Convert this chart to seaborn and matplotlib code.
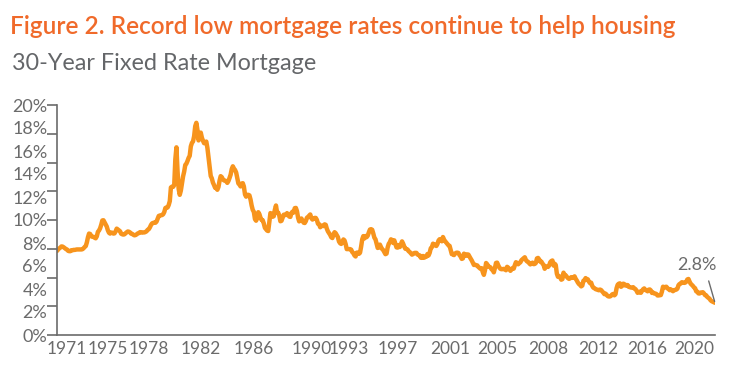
import seaborn as sns
import matplotlib.pyplot as plt
import numpy as np
import pandas as pd

# Tasa hipotecaria fija a 30 años, promedio mensual (%), abril 1971 - noviembre 2020
tasas = [
    7.31, 7.43, 7.53, 7.60, 7.70, 7.69, 7.63, 7.55, 7.48,                  # 1971
    7.44, 7.32, 7.29, 7.29, 7.37, 7.37, 7.40, 7.40, 7.42, 7.44, 7.44, 7.44,  # 1972
    7.44, 7.44, 7.46, 7.54, 7.65, 7.73, 8.05, 8.50, 8.82, 8.78, 8.58, 8.54,  # 1973
    8.54, 8.46, 8.41, 8.58, 8.97, 9.09, 9.28, 9.59, 9.96, 9.98, 9.79, 9.62,  # 1974
    9.43, 9.10, 8.89, 8.82, 8.91, 8.89, 8.82, 8.84, 9.01, 9.25, 9.18, 9.10,  # 1975
    9.02, 8.81, 8.76, 8.73, 8.76, 8.85, 8.93, 9.00, 8.98, 8.92, 8.81, 8.79,  # 1976
    8.72, 8.67, 8.69, 8.75, 8.83, 8.86, 8.94, 8.94, 8.90, 8.92, 8.92, 8.96,  # 1977
    9.02, 9.15, 9.20, 9.36, 9.57, 9.71, 9.74, 9.78, 9.76, 9.86, 10.11, 10.35,  # 1978
    10.39, 10.41, 10.43, 10.50, 10.69, 11.04, 11.09, 11.09, 11.30, 11.64, 12.83, 12.90,  # 1979
    12.88, 13.04, 15.28, 16.32, 14.26, 12.71, 12.19, 12.56, 13.20, 13.79, 14.21, 14.79,  # 1980
    14.90, 15.13, 15.40, 15.58, 16.40, 16.70, 16.83, 17.29, 18.16, 18.45, 17.83, 16.92,  # 1981
    17.40, 17.60, 17.16, 16.89, 16.68, 16.70, 16.82, 16.27, 15.43, 14.61, 13.83, 13.62,  # 1982
    13.25, 13.04, 12.80, 12.78, 12.63, 12.87, 13.42, 13.81, 13.73, 13.54, 13.44, 13.42,  # 1983
    13.37, 13.23, 13.39, 13.65, 13.94, 14.42, 14.67, 14.47, 14.35, 14.13, 13.64, 13.18,  # 1984
    13.08, 12.92, 13.17, 13.20, 12.91, 12.22, 12.03, 12.19, 12.19, 12.14, 11.78, 11.26,  # 1985
    10.88, 10.71, 10.08, 9.94, 10.14, 10.68, 10.51, 10.20, 10.01, 9.98, 9.70, 9.32,  # 1986
    9.20, 9.08, 9.04, 9.83, 10.60, 10.54, 10.28, 10.33, 10.89, 11.26, 10.65, 10.64,  # 1987
    10.38, 9.89, 9.93, 10.20, 10.46, 10.46, 10.43, 10.60, 10.48, 10.30, 10.27, 10.61,  # 1988
    10.73, 10.65, 11.03, 11.05, 10.77, 10.20, 9.88, 9.99, 10.13, 9.95, 9.77, 9.74,  # 1989
    9.90, 10.20, 10.27, 10.37, 10.48, 10.16, 10.04, 10.10, 10.18, 10.18, 10.01, 9.67,  # 1990
    9.64, 9.37, 9.50, 9.49, 9.47, 9.62, 9.58, 9.24, 9.01, 8.86, 8.71, 8.50,  # 1991
    8.43, 8.76, 8.94, 8.85, 8.67, 8.51, 8.13, 7.98, 7.92, 8.09, 8.31, 8.22,  # 1992
    7.91, 7.47, 7.47, 7.47, 7.47, 7.42, 7.21, 7.11, 6.92, 6.83, 7.16, 7.17,  # 1993
    7.06, 7.15, 7.68, 8.32, 8.60, 8.40, 8.61, 8.51, 8.64, 8.93, 9.17, 9.20,  # 1994
    9.15, 8.83, 8.46, 8.32, 7.96, 7.57, 7.61, 7.86, 7.64, 7.48, 7.38, 7.20,  # 1995
    7.03, 7.08, 7.62, 7.93, 8.07, 8.32, 8.25, 8.00, 8.23, 7.92, 7.62, 7.60,  # 1996
    7.82, 7.65, 7.90, 8.14, 7.94, 7.69, 7.50, 7.48, 7.43, 7.29, 7.21, 7.10,  # 1997
    6.99, 7.04, 7.13, 7.14, 7.14, 7.00, 6.95, 6.92, 6.72, 6.71, 6.87, 6.72,  # 1998
    6.79, 6.81, 7.04, 6.92, 7.15, 7.55, 7.63, 7.94, 7.82, 7.85, 7.74, 7.91,  # 1999
    8.21, 8.33, 8.24, 8.15, 8.52, 8.29, 8.15, 8.03, 7.91, 7.80, 7.75, 7.38,  # 2000
    7.03, 7.05, 6.95, 7.08, 7.15, 7.16, 7.13, 6.95, 6.82, 6.62, 6.66, 7.07,  # 2001
    7.00, 6.89, 7.01, 6.99, 6.81, 6.65, 6.49, 6.29, 6.09, 6.11, 6.07, 6.05,  # 2002
    5.92, 5.84, 5.75, 5.81, 5.48, 5.23, 5.63, 6.26, 6.15, 5.95, 5.93, 5.88,  # 2003
    5.71, 5.64, 5.45, 5.83, 6.27, 6.29, 6.06, 5.87, 5.75, 5.72, 5.73, 5.75,  # 2004
    5.71, 5.63, 5.93, 5.86, 5.72, 5.58, 5.70, 5.82, 5.77, 6.07, 6.33, 6.27,  # 2005
    6.15, 6.25, 6.32, 6.51, 6.60, 6.68, 6.76, 6.52, 6.40, 6.36, 6.24, 6.14,  # 2006
    6.22, 6.29, 6.16, 6.18, 6.26, 6.66, 6.70, 6.57, 6.38, 6.38, 6.21, 6.10,  # 2007
    5.76, 5.92, 5.97, 5.92, 6.04, 6.32, 6.43, 6.48, 6.04, 6.20, 6.09, 5.33,  # 2008
    5.06, 5.13, 5.00, 4.81, 4.86, 5.42, 5.22, 5.19, 5.06, 4.95, 4.88, 4.93,  # 2009
    5.03, 4.99, 4.97, 5.10, 4.89, 4.74, 4.56, 4.43, 4.35, 4.23, 4.30, 4.71,  # 2010
    4.76, 4.95, 4.84, 4.84, 4.64, 4.51, 4.55, 4.27, 4.11, 4.07, 3.99, 3.96,  # 2011
    3.92, 3.89, 3.95, 3.91, 3.80, 3.68, 3.55, 3.60, 3.50, 3.38, 3.35, 3.35,  # 2012
    3.41, 3.53, 3.57, 3.45, 3.54, 4.07, 4.37, 4.46, 4.49, 4.19, 4.26, 4.46,  # 2013
    4.43, 4.30, 4.34, 4.34, 4.19, 4.16, 4.13, 4.12, 4.16, 4.04, 4.00, 3.86,  # 2014
    3.67, 3.71, 3.77, 3.67, 3.84, 3.98, 4.05, 3.91, 3.89, 3.80, 3.94, 3.96,  # 2015
    3.87, 3.66, 3.69, 3.61, 3.60, 3.57, 3.44, 3.44, 3.46, 3.47, 3.77, 4.20,  # 2016
    4.15, 4.17, 4.20, 4.05, 4.01, 3.90, 3.97, 3.88, 3.81, 3.90, 3.92, 3.95,  # 2017
    4.03, 4.33, 4.44, 4.47, 4.59, 4.57, 4.53, 4.55, 4.63, 4.83, 4.87, 4.64,  # 2018
    4.46, 4.37, 4.27, 4.14, 4.07, 3.80, 3.77, 3.62, 3.61, 3.69, 3.70, 3.72,  # 2019
    3.62, 3.47, 3.45, 3.31, 3.23, 3.16, 3.02, 2.94, 2.89, 2.83, 2.80,        # 2020
]
meses = pd.date_range("1971-04-01", periods=len(tasas), freq="MS")
anio = meses.year + (meses.month - 0.5) / 12

etiquetas_x = ["1971", "1975", "1978", "1982", "1986", "1990", "1993",
               "1997", "2001", "2005", "2008", "2012", "2016", "2020"]
pos_x = [1972.0, 1975.15, 1978.2, 1982.1, 1986.1, 1990.5, 1993.3,
         1997.0, 2000.9, 2004.5, 2008.3, 2012.1, 2015.8, 2019.3]
etiquetas_y = [f"{v}%" for v in range(0, 21, 2)]

df = pd.DataFrame({"anio": anio, "tasa": tasas})

sns.set_style("white")
gris = "#6b6b6b"
plt.rcParams["font.family"] = ["Lato", "DejaVu Sans"]
plt.rcParams["ytick.left"] = True
plt.rcParams["ytick.color"] = gris

fig = plt.figure(figsize=(7.43, 3.78), dpi=100)
ax = fig.add_axes([57 / 743, 43 / 378, 658 / 743, 230 / 378])

sns.lineplot(data=df, x="anio", y="tasa", color="#F7941D", linewidth=3.2, ax=ax)

ax.set_xlim(anio[0], anio[-1])
ax.set_ylim(0, 20)

# marcas cada 2.5%, etiquetas cada 2%
ax.yaxis.remove_overlapping_locs = False
ax.set_yticks(np.arange(0, 20.1, 2.5))
ax.set_yticklabels([])
ax.set_yticks(np.arange(0, 21, 2), minor=True)
ax.set_yticklabels(etiquetas_y, minor=True)
ax.tick_params(axis="y", which="major", direction="out", length=7, width=1.2,
               color=gris, left=True)
ax.tick_params(axis="y", which="minor", length=0, pad=7, labelsize=13,
               labelcolor=gris, left=False)

ax.set_xticks(pos_x)
ax.set_xticklabels(etiquetas_x)
ax.tick_params(axis="x", length=0, pad=4, labelsize=12.5, labelcolor=gris)

for lado in ["top", "right"]:
    ax.spines[lado].set_visible(False)
for lado in ["left", "bottom"]:
    ax.spines[lado].set_color(gris)
    ax.spines[lado].set_linewidth(1.2)
ax.set_xlabel("")
ax.set_ylabel("")

# etiqueta del último valor con su línea guía
ax.text(2019.5, 6.1, "2.8%", ha="center", va="center", fontsize=13, color=gris)
ax.annotate("", xy=(anio[-1], tasas[-1]), xytext=(2020.4, 4.7),
            arrowprops=dict(arrowstyle="-", color=gris, lw=1,
                            shrinkA=0, shrinkB=1))

fig.text(10 / 743, 1 - 34 / 378, "Figure 2. Record low mortgage rates continue to help housing",
         fontsize=17.6, fontweight="semibold", color="#F06A2A", va="baseline")
fig.text(12 / 743, 1 - 70 / 378, "30-Year Fixed Rate Mortgage",
         fontsize=16.8, color="#646669", va="baseline")

fig.savefig("out.png", dpi=100)
